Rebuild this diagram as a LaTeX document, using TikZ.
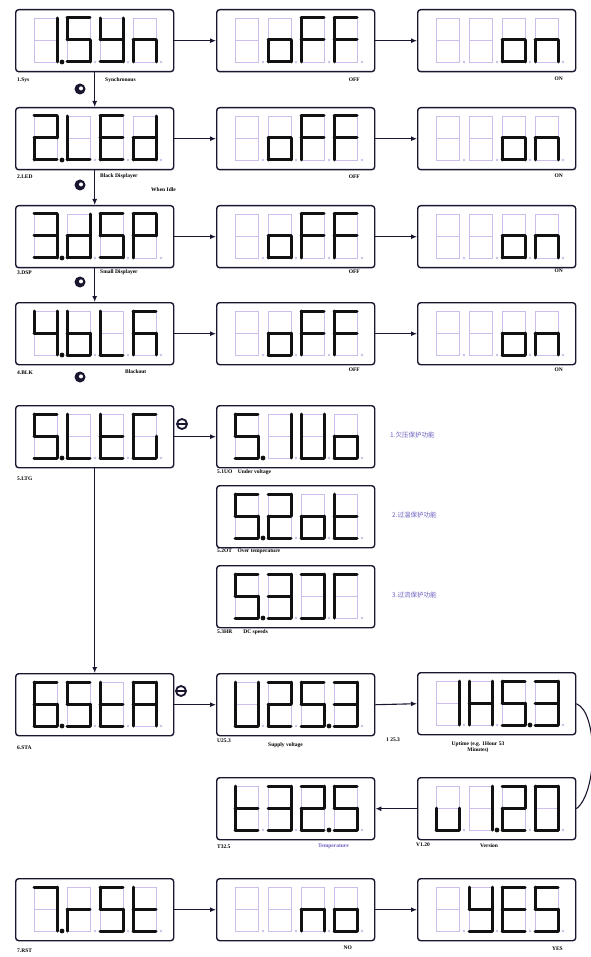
\documentclass[tikz,border=0pt]{standalone}
\usepackage{fontspec}
\setmainfont{Liberation Serif}
\newfontfamily\cjk{Noto Sans CJK SC}
\usepackage{xstring}
\usetikzlibrary{arrows.meta}
\definecolor{segon}{HTML}{111111}
\definecolor{segoff}{HTML}{CDBDEA}
\definecolor{frame}{HTML}{1C1530}
\definecolor{cjkink}{HTML}{6A5FC0}
\tikzset{
  dispbox/.style={draw=frame, line width=1.4pt, rounded corners=3pt, minimum width=158pt, minimum height=62pt, inner sep=0pt, anchor=north west},
  lit/.style={draw=segon, line width=3pt, line cap=round},
  unlit/.style={draw=segoff, line width=0.8pt},
  arr/.style={draw=frame, line width=1.1pt, -{Latex[length=6pt,width=5pt]}},
  lbl/.style={font=\fontsize{5.5}{6.5}\selectfont\bfseries, inner sep=0pt, anchor=west},
  cjklbl/.style={font=\cjk\fontsize{6.5}{7.5}\selectfont, text=cjkink, inner sep=0pt, anchor=west},
  keydot/.style={circle, fill=frame, minimum size=11pt, inner sep=0pt,
    path picture={\fill[white] (path picture bounding box.center) ++(1pt,0.6pt) circle (2pt);}},
  keyring/.style={circle, draw=frame, line width=1.8pt, minimum size=10pt, inner sep=0pt,
    path picture={\draw[frame, line width=1.2pt] (path picture bounding box.west) -- (path picture bounding box.east);}}
}
% one display: name, x, y (top left), cells segs/dot
\newcommand\display[4]{%
  \node[dispbox] (#1) at (#2,#3) {};
  \foreach \segs/\pnt [count=\i from 0] in {#4} {
    \begin{scope}[shift={(#2+19+33*\i,#3+9)}]
      \draw[unlit] (0,0) rectangle (23,44) (0,22) -- (23,22);
      \fill[segoff] (28,44) circle (1.4);
      \foreach \sg/\xa/\ya/\xb/\yb in {a/0/0/23/0, b/23/0/23/22, c/23/22/23/44, d/0/44/23/44, e/0/22/0/44, f/0/0/0/22, g/0/22/23/22}
        {\IfSubStr{\segs}{\sg}{\draw[lit] (\xa,\ya) -- (\xb,\yb);}{}}
      \ifnum\pnt=1\relax \fill[segon] (28,44) circle (2.4);\fi
    \end{scope}
  }
}

\begin{document}
\begin{tikzpicture}[x=1pt,y=-1pt]
  \useasboundingbox[fill=white] (0,0) rectangle (590,957);

  % rows 1 to 4
  \display{sys}{15}{9}{bc/1, afgcd/0, bcdfg/0, ceg/0}
  \display{sysoff}{216}{9}{-/0, cdeg/0, afge/0, afge/0}
  \display{syson}{417}{9}{-/0, -/0, cdeg/0, ceg/0}
  \display{led}{15}{107}{abged/1, fed/0, afged/0, bcdeg/0}
  \display{ledoff}{216}{107}{-/0, cdeg/0, afge/0, afge/0}
  \display{ledon}{417}{107}{-/0, -/0, cdeg/0, ceg/0}
  \display{dsp}{15}{205}{abgcd/1, bcdeg/0, afgcd/0, abfge/0}
  \display{dspoff}{216}{205}{-/0, cdeg/0, afge/0, afge/0}
  \display{dspon}{417}{205}{-/0, -/0, cdeg/0, ceg/0}
  \display{blk}{15}{302}{fgbc/1, cdefg/0, fed/0, afegc/0}
  \display{blkoff}{216}{302}{-/0, cdeg/0, afge/0, afge/0}
  \display{blkon}{417}{302}{-/0, -/0, cdeg/0, ceg/0}

  % row 5
  \display{ltg}{15}{405}{afgcd/1, fed/0, defg/0, afedc/0}
  \display{uo}{216}{405}{afgcd/1, bc/0, bcdef/0, cdeg/0}
  \display{ot}{216}{485}{afgcd/1, abged/0, cdeg/0, defg/0}
  \display{hr}{216}{565}{afgcd/1, abgcd/0, abcd/0, afe/0}

  % row 6
  \display{sta}{15}{673}{afgedc/1, afgcd/0, defg/0, abcefg/0}
  \display{volt}{216}{673}{bcdef/0, abged/0, afgcd/1, abgcd/0}
  \display{hms}{417}{672}{bc/0, bcefg/0, afgcd/1, abgcd/0}
  \display{temp}{216}{777}{defg/0, abgcd/0, abged/1, afgcd/0}
  \display{ver}{417}{777}{cde/0, bc/1, abged/0, abcdef/0}

  % row 7
  \display{rst}{15}{878}{abc/1, eg/0, afgcd/0, defg/0}
  \display{rstno}{216}{878}{-/0, -/0, ceg/0, cdeg/0}
  \display{rstyes}{417}{878}{-/0, bcdfg/0, afged/0, afgcd/0}

  % connectors
  \draw[arr] (sys.east) -- (sysoff.west);
  \draw[arr] (sysoff.east) -- (syson.west);
  \draw[arr] (led.east) -- (ledoff.west);
  \draw[arr] (ledoff.east) -- (ledon.west);
  \draw[arr] (dsp.east) -- (dspoff.west);
  \draw[arr] (dspoff.east) -- (dspon.west);
  \draw[arr] (blk.east) -- (blkoff.west);
  \draw[arr] (blkoff.east) -- (blkon.west);
  \draw[arr] (sys.south) -- (led.north);
  \draw[arr] (led.south) -- (dsp.north);
  \draw[arr] (dsp.south) -- (blk.north);
  \draw[arr] (ltg.east) -- (uo.west);
  \draw[arr] (ltg.south) -- (sta.north);
  \draw[arr] (sta.east) -- (volt.west);
  \draw[arr] (volt.east) -- (hms.west);
  \draw[frame, line width=1.1pt] (hms.east) .. controls (598,712) and (598,792) .. (ver.east);
  \draw[arr] (ver.west) -- (temp.east);
  \draw[arr] (rst.east) -- (rstno.west);
  \draw[arr] (rstno.east) -- (rstyes.west);

  % keys
  \node[keydot] (k1) at (80,89) {};
  \node[keydot] (k2) at (80,185) {};
  \node[keydot] (k3) at (80,282) {};
  \node[keydot] (k4) at (80,377) {};
  \node[keyring] (k5) at (182,424) {};
  \node[keyring] (k6) at (181,691) {};

  % labels
  \node[lbl] (l-sys) at (17,80) {1.Sys};
  \node[lbl] (l-sync) at (105,80) {Synchronous};
  \node[lbl, anchor=east] (l-sysoff) at (360,80) {OFF};
  \node[lbl, anchor=east] (l-syson) at (563,79) {ON};
  \node[lbl] (l-led) at (17,177) {2.LED};
  \node[lbl] (l-black) at (100,176) {Black Displayer};
  \node[lbl, anchor=east] (l-idle) at (176,190) {When Idle};
  \node[lbl, anchor=east] (l-ledoff) at (360,177) {OFF};
  \node[lbl, anchor=east] (l-ledon) at (563,176) {ON};
  \node[lbl] (l-dsp) at (17,273) {3.DSP};
  \node[lbl] (l-small) at (100,272) {Small Displayer};
  \node[lbl, anchor=east] (l-dspoff) at (360,272) {OFF};
  \node[lbl, anchor=east] (l-dspon) at (563,271) {ON};
  \node[lbl] (l-blk) at (17,373) {4.BLK};
  \node[lbl] (l-blackout) at (125,372) {Blackout};
  \node[lbl, anchor=east] (l-blkoff) at (360,370) {OFF};
  \node[lbl, anchor=east] (l-blkon) at (563,370) {ON};

  \node[lbl] (l-ltg) at (17,479) {5.LTG};
  \node[lbl] (l-uo) at (217,472) {5.1UO\quad Under voltage};
  \node[lbl] (l-ot) at (217,551) {5.2OT\quad Over temperature};
  \node[lbl] (l-hr) at (217,632) {5.3HR\qquad DC speeds};
  \node[cjklbl] (c-uo) at (390,435) {1.欠压保护功能};
  \node[cjklbl] (c-ot) at (392,515) {2.过温保护功能};
  \node[cjklbl] (c-hr) at (392,595) {3.过流保护功能};

  \node[lbl] (l-sta) at (17,748) {6.STA};
  \node[lbl] (l-volt) at (217,741) {U25.3};
  \node[lbl] (l-supply) at (268,745) {Supply voltage};
  \node[lbl] (l-hmsv) at (386,740) {1 25.3};
  \node[lbl, anchor=center, align=center] (l-hms) at (478,747) {Uptime (e.g. 1Hour 53\\Minutes)};
  \node[lbl] (l-temp) at (217,847) {T32.5};
  \node[lbl, text=cjkink] (l-tempt) at (318,846) {Temperature};
  \node[lbl] (l-ver) at (416,845) {V1.20};
  \node[lbl] (l-version) at (480,846) {Version};

  \node[lbl] (l-rst) at (17,951) {7.RST};
  \node[lbl, anchor=east] (l-no) at (352,948) {NO};
  \node[lbl, anchor=east] (l-yes) at (563,949) {YES};
\end{tikzpicture}
\end{document}
